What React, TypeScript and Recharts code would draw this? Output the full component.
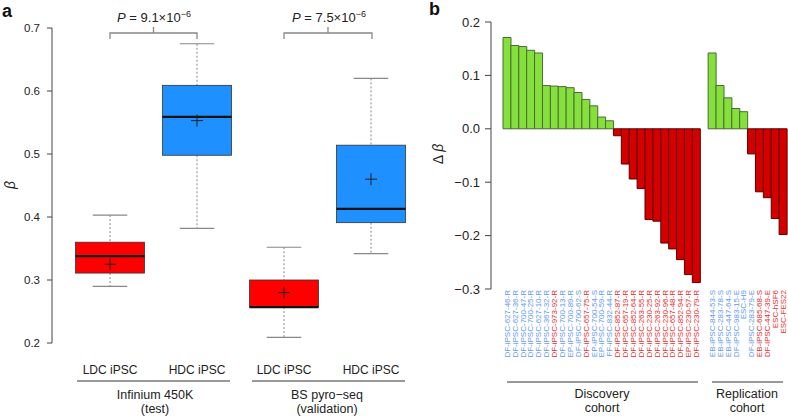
import { BarChart, Bar, XAxis, YAxis, Cell } from "recharts";

// panel a: boxplots of beta
const boxKeys = ["450K-LDC", "450K-HDC", "pyro-LDC", "pyro-HDC"];
const boxLabels = ["LDC iPSC", "HDC iPSC", "LDC iPSC", "HDC iPSC"];
const boxMin = [0.29, 0.382, 0.209, 0.342];
const boxQ1 = [0.311, 0.498, 0.257, 0.391];
const boxMedian = [0.338, 0.559, 0.257, 0.413];
const boxQ3 = [0.36, 0.609, 0.3, 0.514];
const boxMax = [0.403, 0.675, 0.352, 0.62];
const boxMean = [0.325, 0.553, 0.28, 0.46];
const betaTicks = [0.2, 0.3, 0.4, 0.5, 0.6, 0.7];

// panel b: delta beta per line
const discoveryLines = [
  "DF-iPSC-627-46-R", "DF-iPSC-627-36-R", "DF-iPSC-700-47-R", "DF-iPSC-700-25-R",
  "DF-iPSC-627-10-R", "DF-iPSC-367-32-R", "DF-iPSC-973-92-R", "DF-iPSC-700-13-R",
  "EP-iPSC-700-89-R", "DF-iPSC-700-62-S", "DF-iPSC-657-75-R", "EP-iPSC-700-54-S",
  "EP-iPSC-700-59-R", "FF-iPSC-832-44-R", "DF-iPSC-852-87-R", "DF-iPSC-657-19-R",
  "DF-iPSC-852-64-R", "DF-iPSC-263-55-R", "DF-iPSC-230-25-R", "DF-iPSC-263-92-R",
  "DF-iPSC-230-96-R", "DF-iPSC-657-48-R", "DF-iPSC-852-94-R", "EP-iPSC-230-57-R",
  "DF-iPSC-230-79-R",
];
const discoveryDelta = [
  0.171, 0.156, 0.154, 0.147, 0.142, 0.081, 0.08, 0.079, 0.077, 0.068, 0.055, 0.043,
  0.022, 0.015, -0.013, -0.066, -0.094, -0.112, -0.17, -0.173, -0.214, -0.225, -0.245,
  -0.273, -0.288,
];
const discoveryClass = [
  "HDC", "HDC", "HDC", "HDC", "HDC", "HDC", "LDC", "HDC", "HDC", "HDC", "LDC", "HDC",
  "HDC", "HDC", "LDC", "LDC", "LDC", "LDC", "LDC", "LDC", "LDC", "LDC", "LDC", "LDC",
  "LDC",
];
const replicationLines = [
  "EB-iPSC-844-53-S", "EB-iPSC-283-78-S", "EB-iPSC-447-64-S", "DF-iPSC-983-15-E",
  "ESC-H9", "DF-iPSC-283-79-E", "EB-iPSC-685-68-S", "DF-iPSC-447-39-E", "ESC-hSF6",
  "ESC-FES22",
];
const replicationDelta = [0.142, 0.081, 0.058, 0.038, 0.032, -0.047, -0.118, -0.129, -0.168, -0.198];
const replicationClass = ["HDC", "HDC", "HDC", "HDC", "HDC", "HDC", "LDC", "LDC", "LDC", "LDC"];
const deltaTicks = [-0.3, -0.2, -0.1, 0, 0.1, 0.2];

const boxRows = boxKeys.map((key, i) => ({
  key,
  label: boxLabels[i],
  min: boxMin[i],
  q1: boxQ1[i],
  median: boxMedian[i],
  q3: boxQ3[i],
  max: boxMax[i],
  mean: boxMean[i],
}));

const deltaRows = [
  ...discoveryLines.map((name, i) => ({ name, delta: discoveryDelta[i], cls: discoveryClass[i] })),
  { name: "gap", delta: null as number | null, cls: "" },
  ...replicationLines.map((name, i) => ({ name, delta: replicationDelta[i], cls: replicationClass[i] })),
];

const FONT = "'Liberation Sans', Arial, Helvetica, sans-serif";

function BoxShape(props: any) {
  const { x, y, width, height, payload } = props;
  if (!payload || height == null) return <g />;
  const top = Math.min(y, y + height);
  const span = Math.abs(height);
  const hi = payload.max;
  const lo = payload.min;
  const py = (v: number) => top + ((hi - v) / (hi - lo)) * span;
  const cx = x + width / 2;
  const cap = width / 4;
  const fill = payload.label.startsWith("LDC") ? "#FF0000" : "#1E90FF";
  return (
    <g>
      <line x1={cx} x2={cx} y1={py(hi)} y2={py(payload.q3)} stroke="#888" strokeDasharray="2 2" />
      <line x1={cx} x2={cx} y1={py(payload.q1)} y2={py(lo)} stroke="#888" strokeDasharray="2 2" />
      <line x1={cx - cap} x2={cx + cap} y1={py(hi)} y2={py(hi)} stroke="#888" strokeWidth={1.2} />
      <line x1={cx - cap} x2={cx + cap} y1={py(lo)} y2={py(lo)} stroke="#888" strokeWidth={1.2} />
      <rect
        x={x}
        y={py(payload.q3)}
        width={width}
        height={py(payload.q1) - py(payload.q3)}
        fill={fill}
        stroke="#333"
        strokeWidth={0.8}
      />
      <line x1={x} x2={x + width} y1={py(payload.median)} y2={py(payload.median)} stroke="#111" strokeWidth={2.2} />
      <line x1={cx - 6} x2={cx + 6} y1={py(payload.mean)} y2={py(payload.mean)} stroke="#222" strokeWidth={1} />
      <line x1={cx} x2={cx} y1={py(payload.mean) - 6} y2={py(payload.mean) + 6} stroke="#222" strokeWidth={1} />
    </g>
  );
}

function LineTick(props: any) {
  const { x, y, payload } = props;
  const row = deltaRows.find((r) => r.name === payload.value);
  if (!row || !row.cls) return <g />;
  return (
    <text
      x={x}
      y={y}
      transform={`rotate(-90 ${x} ${y})`}
      textAnchor="end"
      dy="0.35em"
      fontSize={8}
      fontFamily={FONT}
      fill={row.cls === "LDC" ? "#E52B2B" : "#5E98EE"}
    >
      {payload.value}
    </text>
  );
}

const fmtDelta = (v: number) => (v < 0 ? "\u2212" + Math.abs(v).toFixed(1) : v.toFixed(1));

export default function App() {
  return (
    <div style={{ position: "relative", width: 788, height: 416, background: "#fff", fontFamily: FONT }}>
      <style>{"body{margin:0}"}</style>

      <div style={{ position: "absolute", left: 0, top: 0 }}>
        <BarChart width={420} height={416} data={boxRows} margin={{ top: 28, right: 5.5, bottom: 0, left: 0 }}>
          <XAxis
            dataKey="key"
            height={73}
            padding={{ left: 14.5, right: 0 }}
            axisLine={false}
            tickLine={false}
            tickSize={0}
            tickMargin={22}
            interval={0}
            tickFormatter={(_v: any, i: number) => boxLabels[i]}
            tick={{ fontSize: 12, fill: "#222", fontFamily: FONT }}
          />
          <YAxis
            type="number"
            domain={[0.2, 0.7]}
            ticks={betaTicks}
            width={52}
            tickSize={5}
            tickMargin={7}
            stroke="#444"
            tickFormatter={(v: number) => v.toFixed(1)}
            tick={{ fontSize: 11.5, fill: "#222", fontFamily: FONT }}
          />
          <Bar
            dataKey={(d: any) => [d.min, d.max]}
            barSize={69}
            shape={BoxShape}
            isAnimationActive={false}
          />
        </BarChart>
      </div>

      <div style={{ position: "absolute", left: 420, top: 0 }}>
        <BarChart
          width={368}
          height={416}
          data={deltaRows}
          barCategoryGap={0}
          margin={{ top: 22, right: 1, bottom: 0, left: 0 }}
        >
          <XAxis
            dataKey="name"
            height={127}
            padding={{ left: 12, right: 0 }}
            axisLine={false}
            tickLine={false}
            tickSize={0}
            tickMargin={1}
            interval={0}
            tick={<LineTick />}
          />
          <YAxis
            type="number"
            domain={[-0.3, 0.2]}
            ticks={deltaTicks}
            width={71}
            tickSize={6}
            tickMargin={5}
            stroke="#444"
            tickFormatter={fmtDelta}
            tick={{ fontSize: 13, fill: "#222", fontFamily: FONT }}
          />
          <Bar dataKey="delta" isAnimationActive={false}>
            {deltaRows.map((r) => (
              <Cell
                key={r.name}
                fill={(r.delta ?? 0) >= 0 ? "#86E03C" : "#D40000"}
                stroke={(r.delta ?? 0) >= 0 ? "#4A6A38" : "#5A0000"}
                strokeWidth={1}
              />
            ))}
          </Bar>
        </BarChart>
      </div>

      <svg
        width={788}
        height={416}
        style={{ position: "absolute", left: 0, top: 0, pointerEvents: "none" }}
        fontFamily={FONT}
      >
        <text x={2} y={17} fontSize={18} fontWeight="bold" fill="#111">a</text>
        <text x={429} y={15} fontSize={18} fontWeight="bold" fill="#111">b</text>

        <text x={15} y={185} transform="rotate(-90 15 185)" textAnchor="middle" fontSize={14} fontStyle="italic" fill="#222">
          β
        </text>
        <text x={443} y={154} transform="rotate(-90 443 154)" textAnchor="middle" fontSize={14} fill="#222">
          Δ <tspan fontStyle="italic">β</tspan>
        </text>

        {/* p-value brackets */}
        <g stroke="#888" strokeWidth={1.3} fill="none">
          <polyline points="110,39 110,33 197,33 197,39" />
          <line x1={153.5} x2={153.5} y1={33} y2={27} />
          <polyline points="284,39 284,33 372,33 372,39" />
          <line x1={328} x2={328} y1={33} y2={27} />
        </g>
        <text x={154} y={22} textAnchor="middle" fontSize={13} fill="#222">
          <tspan fontStyle="italic">P</tspan> = 9.1×10
          <tspan dy={-5} fontSize={9}>−6</tspan>
        </text>
        <text x={329} y={22} textAnchor="middle" fontSize={13} fill="#222">
          <tspan fontStyle="italic">P</tspan> = 7.5×10
          <tspan dy={-5} fontSize={9}>−6</tspan>
        </text>

        {/* group lines */}
        <g stroke="#777" strokeWidth={1.5}>
          <line x1={77} x2={230} y1={381} y2={381} />
          <line x1={252} x2={405} y1={381} y2={381} />
          <line x1={507} x2={698} y1={382} y2={382} />
          <line x1={712} x2={783} y1={382} y2={382} />
        </g>
        <g fontSize={12.5} fill="#222" textAnchor="middle">
          <text x={155} y={398.5}>Infinium 450K</text>
          <text x={155} y={413}>(test)</text>
          <text x={327} y={398.5}>BS pyro−seq</text>
          <text x={327} y={413}>(validation)</text>
          <text x={602} y={397.5}>Discovery</text>
          <text x={602} y={412}>cohort</text>
          <text x={747} y={397.5}>Replication</text>
          <text x={747} y={412}>cohort</text>
        </g>
      </svg>
    </div>
  );
}
